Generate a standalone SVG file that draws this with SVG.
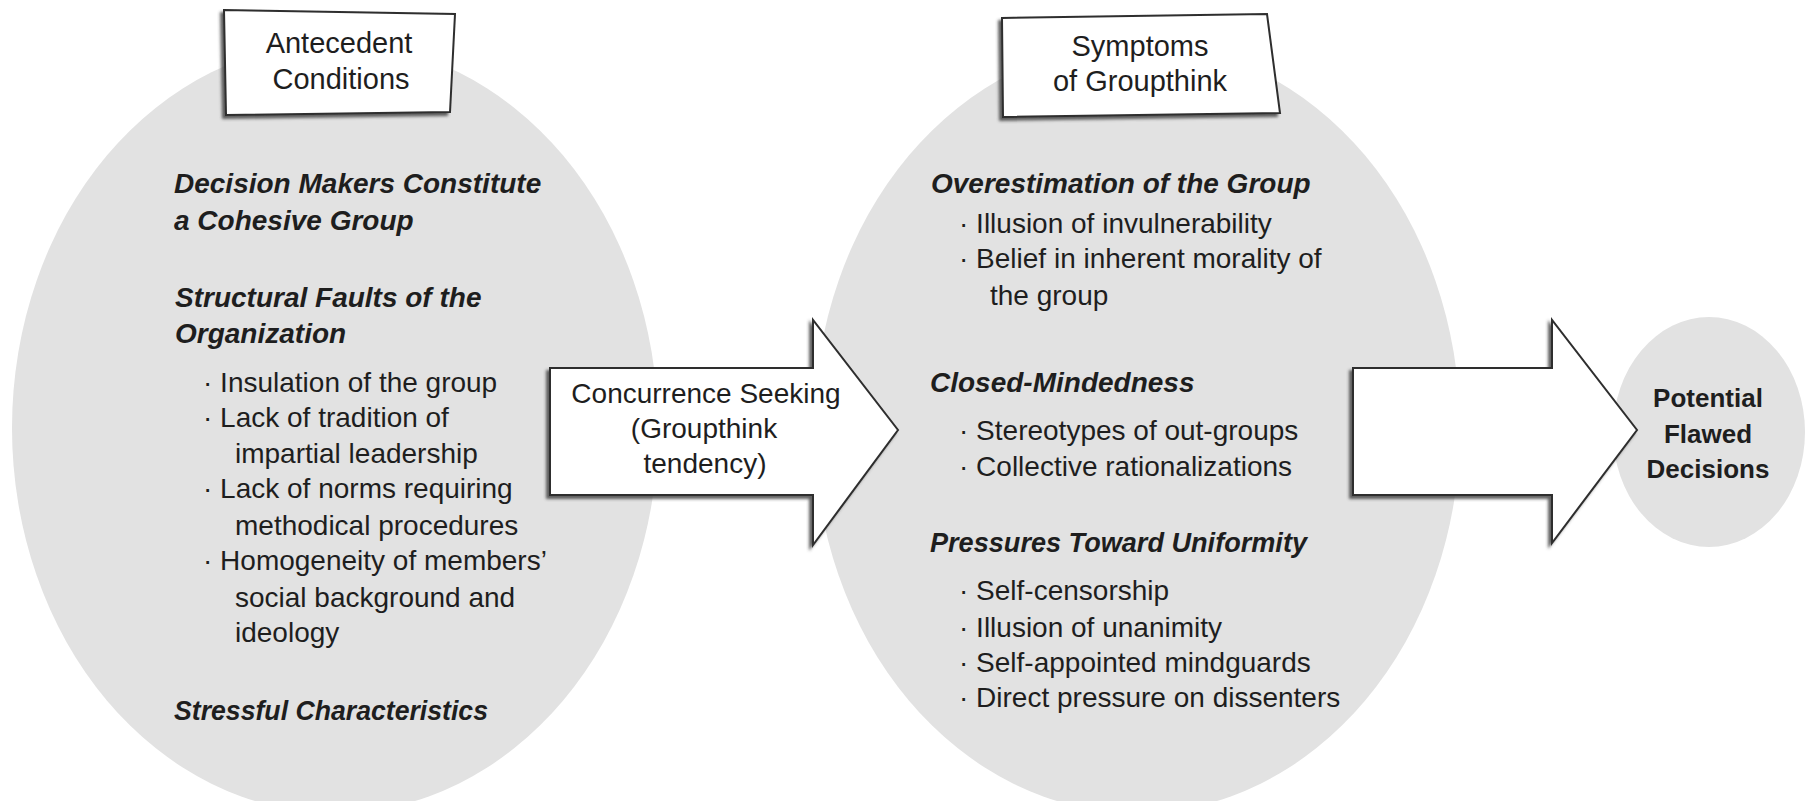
<svg xmlns="http://www.w3.org/2000/svg" width="1808" height="801" viewBox="0 0 1808 801">
<defs>
<filter id="shadow" x="-10%" y="-10%" width="120%" height="130%">
<feDropShadow dx="-3" dy="3" stdDeviation="1.6" flood-color="#444" flood-opacity="0.85"/>
</filter>
<style>
.blob{fill:#e2e2e2;stroke:none}
.box{fill:#ffffff;stroke:#2e2e2e;stroke-width:2;filter:url(#shadow)}
.arrow{fill:#ffffff;stroke:#2e2e2e;stroke-width:2;stroke-linejoin:miter;filter:url(#shadow)}
text{font-family:"Liberation Sans",Arial,sans-serif;fill:#1e1e1e}
.title{font-size:29px;text-anchor:middle}
.head{font-size:28px;font-weight:bold;font-style:italic}
.item{font-size:28px}
.mid{font-size:28px;text-anchor:middle}
.out{font-size:26px;font-weight:bold;text-anchor:middle}
</style>
</defs>
<rect width="1808" height="801" fill="#ffffff"/>

<g id="antecedent">
<ellipse class="blob" cx="335" cy="428" rx="323" ry="385"/>
<polygon class="box" points="224,10 455,14 450,112 226,115"/>
<text class="title" x="339" y="53">Antecedent</text>
<text class="title" x="341" y="89">Conditions</text>
<text class="head" x="174" y="193">Decision Makers Constitute</text>
<text class="head" x="174" y="230">a Cohesive Group</text>
<text class="head" x="175" y="307">Structural Faults of the</text>
<text class="head" x="175" y="343">Organization</text>
<text class="item" x="203" y="392">· Insulation of the group</text>
<text class="item" x="203" y="427">· Lack of tradition of</text>
<text class="item" x="235" y="463">impartial leadership</text>
<text class="item" x="203" y="498">· Lack of norms requiring</text>
<text class="item" x="235" y="535">methodical procedures</text>
<text class="item" x="203" y="570">· Homogeneity of members’</text>
<text class="item" x="235" y="607">social background and</text>
<text class="item" x="235" y="642">ideology</text>
<text class="head" x="174" y="720" textLength="314" lengthAdjust="spacingAndGlyphs">Stressful Characteristics</text>
</g>

<g id="symptoms">
<ellipse class="blob" cx="1137" cy="428" rx="323" ry="385"/>
<polygon class="box" points="1002,18 1267,14 1280,113 1003,117"/>
<text class="title" x="1140" y="56">Symptoms</text>
<text class="title" x="1140" y="91">of Groupthink</text>
<text class="head" x="931" y="193">Overestimation of the Group</text>
<text class="item" x="959" y="233">· Illusion of invulnerability</text>
<text class="item" x="959" y="268">· Belief in inherent morality of</text>
<text class="item" x="990" y="305">the group</text>
<text class="head" x="930" y="392">Closed-Mindedness</text>
<text class="item" x="959" y="440">· Stereotypes of out-groups</text>
<text class="item" x="959" y="476">· Collective rationalizations</text>
<text class="head" x="930" y="552" textLength="377" lengthAdjust="spacingAndGlyphs">Pressures Toward Uniformity</text>
<text class="item" x="959" y="600">· Self-censorship</text>
<text class="item" x="959" y="637">· Illusion of unanimity</text>
<text class="item" x="959" y="672">· Self-appointed mindguards</text>
<text class="item" x="959" y="707">· Direct pressure on dissenters</text>
</g>

<g id="outcome">
<ellipse class="blob" cx="1709" cy="432" rx="96" ry="115"/>
<text class="out" x="1708" y="407">Potential</text>
<text class="out" x="1708" y="443">Flawed</text>
<text class="out" x="1708" y="478">Decisions</text>
</g>

<g id="connectors">
<polygon class="arrow" points="550,368 813,368 813,320 898,430 813,545 813,495 550,495"/>
<text class="mid" x="706" y="403">Concurrence Seeking</text>
<text class="mid" x="704" y="438">(Groupthink</text>
<text class="mid" x="705" y="473">tendency)</text>
<polygon class="arrow" points="1353,368 1552,368 1552,320 1637,430 1552,543 1552,495 1353,495"/>
</g>
</svg>
